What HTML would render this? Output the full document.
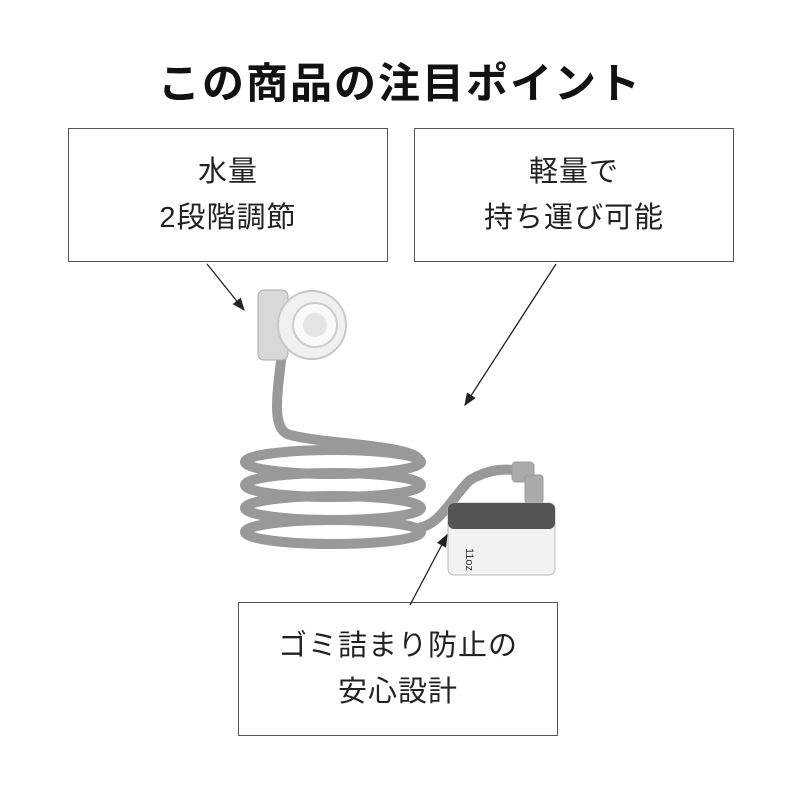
<!DOCTYPE html>
<html><head><meta charset="utf-8"><style>
body{margin:0;width:800px;height:800px;background:#fff;overflow:hidden;position:relative;font-family:"Liberation Sans","Noto Sans CJK JP",sans-serif;color:#222}
.t{position:absolute;left:0;width:800px;top:50px;text-align:center;font-size:42px;font-weight:bold;letter-spacing:2px;color:#111}
.b{position:absolute;border:1.5px solid #555;box-sizing:border-box;display:flex;flex-direction:column;justify-content:center;align-items:center;text-align:center;font-size:29px;line-height:46px;letter-spacing:1px}
</style></head><body>
<div class="t">この商品の注目ポイント</div>
<div class="b" style="left:68px;top:128px;width:320px;height:134px"><div>水量<br>2段階調節</div></div>
<div class="b" style="left:414px;top:128px;width:320px;height:134px"><div>軽量で<br>持ち運び可能</div></div>
<div class="b" style="left:238px;top:602px;width:320px;height:134px"><div>ゴミ詰まり防止の<br>安心設計</div></div>
<svg width="800" height="800" style="position:absolute;left:0;top:0">
<defs><marker id="a" markerWidth="10" markerHeight="10" refX="9" refY="5" orient="auto"><path d="M0,1 L10,5 L0,9 z" fill="#222"/></marker></defs>
<g stroke="#222" stroke-width="1.3" marker-end="url(#a)">
<line x1="207" y1="264" x2="244" y2="310"/>
<line x1="556" y1="264" x2="465" y2="405"/>
<line x1="410" y1="605" x2="447" y2="535"/>
</g>
<g fill="none" stroke="#999" stroke-width="10">
<path d="M282,352 C278,390 270,430 290,435 C330,445 420,445 420,462"/>
<ellipse cx="333" cy="462" rx="88" ry="12"/>
<ellipse cx="333" cy="485" rx="88" ry="12"/>
<ellipse cx="333" cy="508" rx="88" ry="12"/>
<ellipse cx="333" cy="532" rx="88" ry="12"/>
<path d="M418,528 C440,525 450,500 470,480 C490,468 510,468 520,472"/>
</g>
<g stroke="#9a9a9a" fill="#aaa"><rect x="512" y="462" width="22" height="20" rx="4"/><rect x="525" y="475" width="18" height="28" rx="3"/></g>
<rect x="448" y="503" width="107" height="72" rx="6" fill="#f2f2f2" stroke="#bbb"/>
<rect x="448" y="503" width="107" height="26" rx="6" fill="#555"/>
<text x="478" y="560" font-size="11" fill="#333" font-family="Liberation Sans" transform="rotate(90 478 548)">11oz</text>
<rect x="258" y="290" width="30" height="70" rx="6" fill="#d8d8d8" stroke="#aaa"/>
<circle cx="312" cy="325" r="34" fill="#f0f0f0" stroke="#c8c8c8" stroke-width="2"/>
<circle cx="315" cy="325" r="22" fill="#fafafa" stroke="#ccc" stroke-width="2"/>
<circle cx="315" cy="325" r="12" fill="#e4e4e4"/>
</svg>
</body></html>
